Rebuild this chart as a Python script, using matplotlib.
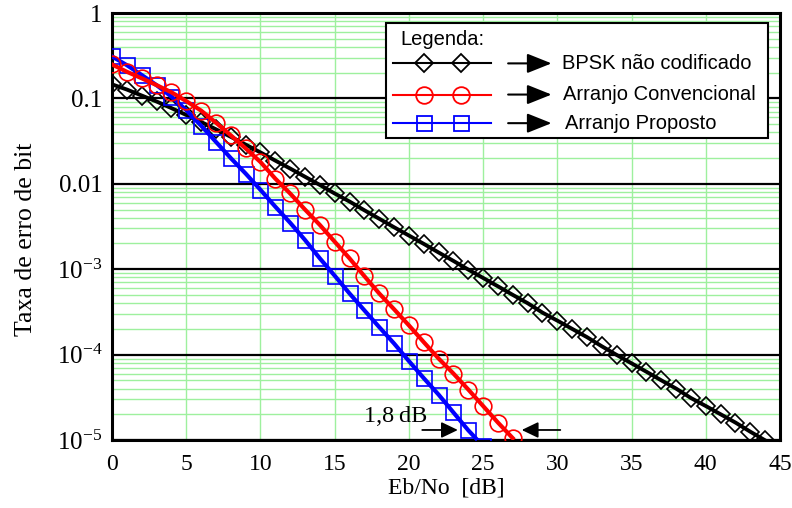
import matplotlib
matplotlib.use("Agg")
import matplotlib.pyplot as plt
from matplotlib.ticker import LogLocator, NullFormatter, FixedLocator
from matplotlib.lines import Line2D
from matplotlib.patches import Rectangle

# Eb/No grid in dB
ebno_bpsk = list(range(0, 46))
ebno_conv = list(range(0, 28))
ebno_prop = list(range(0, 26))

# Bit error rate, uncoded BPSK
ber_bpsk = [0.146, 0.127, 0.108, 0.092, 0.077, 0.064, 0.053, 0.0435, 0.0355, 0.0288,
            0.0233, 0.0187, 0.0151, 0.0121, 0.0097, 0.0077, 0.0062, 0.0049, 0.0039, 0.0031,
            0.00248, 0.00198, 0.00157, 0.00125, 0.00099, 0.00079, 0.00063, 0.00050, 0.00040, 0.00031,
            0.00025, 0.00020, 0.00016, 0.000125, 0.000099, 0.000079, 0.000063, 0.000050, 0.000040, 0.000031,
            0.000025, 0.000020, 0.000016, 0.0000125, 0.0000099, 0.0000079]

# Bit error rate, conventional arrangement
ber_conv = [0.25, 0.205, 0.172, 0.143, 0.118, 0.093, 0.072, 0.052, 0.037, 0.026,
            0.018, 0.0115, 0.0077, 0.0050, 0.0033, 0.0021, 0.00134, 0.00083, 0.00052, 0.00034,
            0.00022, 0.00014, 0.00009, 0.00006, 0.000039, 0.000025, 0.000016, 0.0000105]

# Bit error rate, proposed arrangement
ber_prop = [0.31, 0.245, 0.188, 0.143, 0.105, 0.073, 0.048, 0.031, 0.020, 0.0132,
            0.0085, 0.0054, 0.0035, 0.0022, 0.00134, 0.00084, 0.00052, 0.00033, 0.00021, 0.000135,
            0.000084, 0.000053, 0.000034, 0.000021, 0.000013, 0.0000085]

x_ticks = [0, 5, 10, 15, 20, 25, 30, 35, 40, 45]
y_ticks = [1, 0.1, 0.01, 1e-3, 1e-4, 1e-5]
y_tick_labels = ["1", "0.1", "0.01", r"$\mathrm{10^{-3}}$", r"$\mathrm{10^{-4}}$", r"$\mathrm{10^{-5}}$"]

legend_labels = ["BPSK não codificado", "Arranjo Convencional", "Arranjo Proposto"]
gap_label = "1,8\u2009dB"

plt.rcParams["mathtext.fontset"] = "custom"
plt.rcParams["mathtext.rm"] = "Liberation Serif"
plt.rcParams["mathtext.it"] = "Liberation Serif"

serif = "Liberation Serif"
sans = "Liberation Sans"
green = "#9ef09e"

fig = plt.figure(figsize=(7.92, 5.08), dpi=100)
ax = fig.add_axes([112 / 792, 1 - 440 / 508, 668 / 792, 427 / 508])

ax.set_yscale("log")
ax.set_xlim(0, 45)
ax.set_ylim(1e-5, 1)

# grid: green minor rows, green columns, black decades
ax.yaxis.set_major_locator(FixedLocator(y_ticks))
ax.yaxis.set_minor_locator(LogLocator(base=10, subs=range(2, 10), numticks=20))
ax.yaxis.set_minor_formatter(NullFormatter())
ax.set_xticks(x_ticks)
ax.set_xticklabels([str(v) for v in x_ticks], fontfamily=serif, fontsize=17)
ax.set_yticklabels(y_tick_labels, fontfamily=serif, fontsize=18)
ax.grid(which="minor", axis="y", color=green, lw=1.0, zorder=0)
ax.grid(which="major", axis="x", color=green, lw=1.0, zorder=0)
ax.grid(which="major", axis="y", color="black", lw=1.6, zorder=1)
ax.set_axisbelow(True)
ax.tick_params(which="both", length=0)
ax.tick_params(axis="x", pad=10)
ax.tick_params(axis="y", pad=7)
for s in ax.spines.values():
    s.set_linewidth(2.2)

# curves
ax.plot(ebno_bpsk, ber_bpsk, color="black", lw=2.8, marker="D", ms=8.8,
        mfc="none", mec="black", mew=1.2, zorder=3)
ax.plot(ebno_prop, ber_prop, color="#0000ff", lw=3.0, marker="s", ms=10.8,
        mfc="none", mec="#0000ff", mew=1.2, zorder=4)
ax.plot(ebno_conv, ber_conv, color="#ff0000", lw=3.0, marker="o", ms=12,
        mfc="none", mec="#ff0000", mew=1.2, zorder=5)

ax.set_xlabel("Eb/No  [dB]", fontfamily=serif, fontsize=17)
ax.set_ylabel("Taxa de erro de bit", fontfamily=serif, fontsize=18.5)
ax.xaxis.set_label_coords(0.5, -0.088)
ax.yaxis.set_label_coords(-0.112, 0.47)

# gap annotation at the bottom
ax.text(17.0, 1.86e-5, gap_label, fontfamily=serif, fontsize=17.5,
        ha="left", va="center", zorder=6)
arrow_props = dict(arrowstyle="-|>,head_length=0.5,head_width=0.24", color="black",
                   lw=1.3, shrinkA=0, shrinkB=0, mutation_scale=20)
ax.annotate("", xy=(23.3, 1.31e-5), xytext=(20.9, 1.31e-5), arrowprops=arrow_props, zorder=6)
ax.annotate("", xy=(27.6, 1.31e-5), xytext=(30.2, 1.31e-5), arrowprops=arrow_props, zorder=6)

# legend box
T = ax.transAxes
ax.add_patch(Rectangle((0.410, 0.708), 0.572, 0.268, transform=T, facecolor="white",
                       edgecolor="black", lw=1.5, zorder=7))
ax.text(0.431, 0.938, "Legenda:", transform=T, fontfamily=sans, fontsize=14.5,
        ha="left", va="center", zorder=8)
rows = [0.882, 0.809, 0.742]
styles = [("black", "D", 8.8), ("#ff0000", "o", 12), ("#0000ff", "s", 10.8)]
text_x = [0.673, 0.6756, 0.678]
leg_arrow = dict(arrowstyle="-|>,head_length=0.75,head_width=0.3", color="black",
                 lw=1.5, shrinkA=0, shrinkB=0, mutation_scale=20)
for yr, (c, m, ms), lab, tx in zip(rows, styles, legend_labels, text_x):
    ax.add_line(Line2D([0.420, 0.568], [yr, yr], transform=T, color=c, lw=1.5, zorder=8))
    ax.add_line(Line2D([0.4675, 0.5225], [yr, yr], transform=T, ls="none", marker=m, ms=ms,
                       mfc="none", mec=c, mew=1.3, zorder=9))
    ax.annotate("", xy=(0.658, yr), xytext=(0.593, yr), xycoords=T, textcoords=T,
                arrowprops=leg_arrow, zorder=8)
    ax.text(tx, yr, lab, transform=T, fontfamily=sans, fontsize=14.5,
            ha="left", va="center", zorder=8)

fig.savefig("out.png", dpi=100)
